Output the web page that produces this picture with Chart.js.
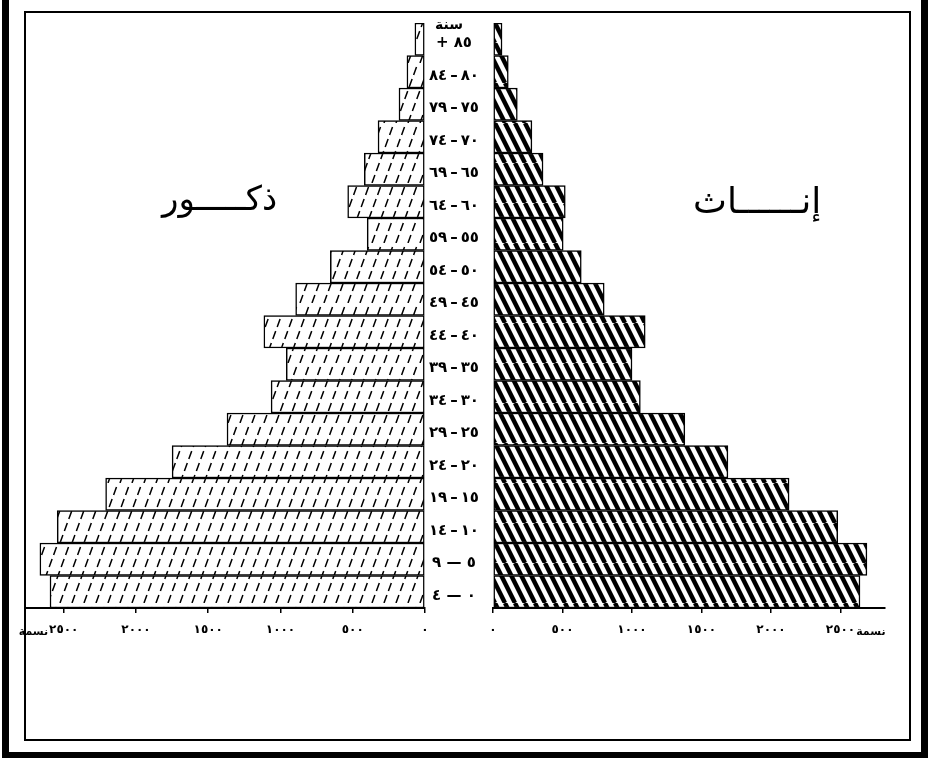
<!DOCTYPE html>
<html>
<head>
<meta charset="utf-8">
<script src="https://cdn.jsdelivr.net/npm/chart.js@4.4.1/dist/chart.umd.min.js"></script>
<style>
  body { margin: 0; background: #fff; }
  #page { position: relative; width: 928px; height: 758px; overflow: hidden; background: #fff; font-family: 'DejaVu Sans', sans-serif; }
  .line { position: absolute; background: #000; }
  #frame { position: absolute; left: 24px; top: 11px; width: 887px; height: 730px; border: 2px solid #000; box-sizing: border-box; }
  canvas { position: absolute; }
  #male { left: 0; top: 3px; }
  #female { left: 425px; top: 3px; }
  .txt { position: absolute; color: #000; white-space: nowrap; line-height: 1.3; }
  #lblMale { left: 162px; top: 176px; font-size: 34px; }
  #lblFemale { left: 693px; top: 178px; font-size: 36px; }
  #lblYear { left: 435px; top: 17px; font-size: 14px; font-weight: bold; line-height: 1; }
</style>
</head>
<body>
<div id="page">
  <div class="line" style="left:2px;top:0;width:7px;height:758px"></div>
  <div class="line" style="left:2px;top:752px;width:926px;height:6px"></div>
  <div class="line" style="left:921px;top:0;width:7px;height:758px"></div>
  <div id="frame"></div>
  <canvas id="male" width="445" height="645"></canvas>
  <canvas id="female" width="485" height="645"></canvas>
  <div class="txt" id="lblMale">ذكـــــور</div>
  <div class="txt" id="lblFemale">إنــــــاث</div>
  <div class="txt" id="lblYear">سنة</div>
</div>
<script>
// فئات العمر من الأصغر إلى الأكبر
const ages = ['٠ — ٤', '٥ — ٩', '١٠\u2009–\u2009١٤', '١٥\u2009–\u2009١٩', '٢٠\u2009–\u2009٢٤', '٢٥\u2009–\u2009٢٩',
  '٣٠\u2009–\u2009٣٤', '٣٥\u2009–\u2009٣٩', '٤٠\u2009–\u2009٤٤', '٤٥\u2009–\u2009٤٩', '٥٠\u2009–\u2009٥٤',
  '٥٥\u2009–\u2009٥٩', '٦٠\u2009–\u2009٦٤', '٦٥\u2009–\u2009٦٩', '٧٠\u2009–\u2009٧٤', '٧٥\u2009–\u2009٧٩',
  '٨٠\u2009–\u2009٨٤', '+ ٨٥'];
const males = [2595, 2665, 2545, 2210, 1750, 1370, 1065, 960, 1115, 895, 655, 400, 535, 420, 325, 180, 125, 70];
const females = [2640, 2690, 2480, 2130, 1690, 1380, 1060, 1000, 1095, 800, 635, 505, 520, 360, 280, 175, 110, 65];
const tickValues = [0, 500, 1000, 1500, 2000, 2500];
const tickLabels = ['٠', '٥٠٠', '١٠٠٠', '١٥٠٠', '٢٠٠٠', '٢٥٠٠'];
const unitLabel = 'نسمة';

Chart.defaults.font.family = 'DejaVu Sans';
Chart.defaults.color = '#000';

// تهشير الذكور: خطوط متقطعة مائلة /
function maleHatch() {
  const w = 12, h = 60, shift = 22;
  const c = document.createElement('canvas');
  c.width = w; c.height = h;
  const g = c.getContext('2d');
  g.fillStyle = '#fff';
  g.fillRect(0, 0, w, h);
  const len = Math.hypot(shift, h);
  const per = len / 5;
  g.setLineDash([per * 0.66, per * 0.34]);
  g.strokeStyle = '#000';
  g.lineWidth = 1.5;
  for (let k = -3; k <= 1; k++) {
    g.beginPath();
    g.moveTo(k * w, h);
    g.lineTo(k * w + shift, 0);
    g.stroke();
  }
  return g.createPattern(c, 'repeat');
}

// تهشير الإناث: خطوط سميكة مائلة \
function femaleHatch() {
  const w = 10, h = 40, shift = 20;
  const c = document.createElement('canvas');
  c.width = w; c.height = h;
  const g = c.getContext('2d');
  g.fillStyle = '#fff';
  g.fillRect(0, 0, w, h);
  g.strokeStyle = '#000';
  g.lineWidth = 4.4;
  for (let k = -3; k <= 1; k++) {
    g.beginPath();
    g.moveTo(k * w, 0);
    g.lineTo(k * w + shift, h);
    g.stroke();
  }
  return g.createPattern(c, 'repeat');
}

const unitPlugin = {
  id: 'unit',
  afterDraw(chart, args, opts) {
    const s = chart.scales.x;
    const ctx = chart.ctx;
    const x = s.getPixelForValue(2500);
    ctx.save();
    ctx.font = 'bold 12px DejaVu Sans';
    const half = ctx.measureText(tickLabels[5]).width / 2;
    ctx.font = 'bold 11px DejaVu Sans';
    ctx.fillStyle = '#000';
    ctx.textBaseline = 'middle';
    ctx.textAlign = opts.side === 'left' ? 'right' : 'left';
    const xx = opts.side === 'left' ? x - half - 1 : x + half + 1;
    ctx.fillText(unitLabel, xx, s.top + 24);
    ctx.restore();
  }
};

function xScale(max, reverse) {
  return {
    type: 'linear',
    min: 0,
    max: max,
    reverse: reverse,
    afterBuildTicks: s => { s.ticks = tickValues.map(v => ({ value: v })); },
    afterFit: s => { s.height = 40; },
    grid: { display: true, drawOnChartArea: false, drawTicks: true, tickLength: 5, color: '#000', lineWidth: 1.5 },
    border: { display: true, color: '#000', width: 2 },
    ticks: {
      font: { size: 12, weight: 'bold' },
      padding: 10,
      maxRotation: 0,
      autoSkip: false,
      callback: (v, i) => tickLabels[i]
    }
  };
}

new Chart(document.getElementById('male'), {
  type: 'bar',
  data: {
    labels: ages,
    datasets: [{
      data: males,
      backgroundColor: maleHatch(),
      borderColor: '#000',
      borderWidth: 1.5,
      borderSkipped: false,
      barPercentage: 1,
      categoryPercentage: 1
    }]
  },
  options: {
    indexAxis: 'y',
    responsive: false,
    animation: false,
    layout: { padding: { top: 20, right: 20, left: 25, bottom: 0 } },
    plugins: { legend: { display: false }, tooltip: { enabled: false }, unit: { side: 'left' } },
    scales: {
      x: xScale(2768, true),
      y: { reverse: true, display: false }
    }
  },
  plugins: [unitPlugin]
});

new Chart(document.getElementById('female'), {
  type: 'bar',
  data: {
    labels: ages,
    datasets: [{
      data: females,
      backgroundColor: femaleHatch(),
      borderColor: '#000',
      borderWidth: 1.5,
      borderSkipped: false,
      barPercentage: 1,
      categoryPercentage: 1
    }]
  },
  options: {
    indexAxis: 'y',
    responsive: false,
    animation: false,
    layout: { padding: { top: 20, right: 25, left: 0, bottom: 0 } },
    plugins: { legend: { display: false }, tooltip: { enabled: false }, unit: { side: 'right' } },
    scales: {
      x: xScale(2820, false),
      y: {
        reverse: true,
        afterFit: s => { s.width = 68; },
        grid: { display: false },
        border: { display: false },
        ticks: { font: { size: 15, weight: 'bold' }, padding: 6, labelOffset: 4, crossAlign: 'center', autoSkip: false }
      }
    }
  },
  plugins: [unitPlugin]
});
</script>
</body>
</html>
